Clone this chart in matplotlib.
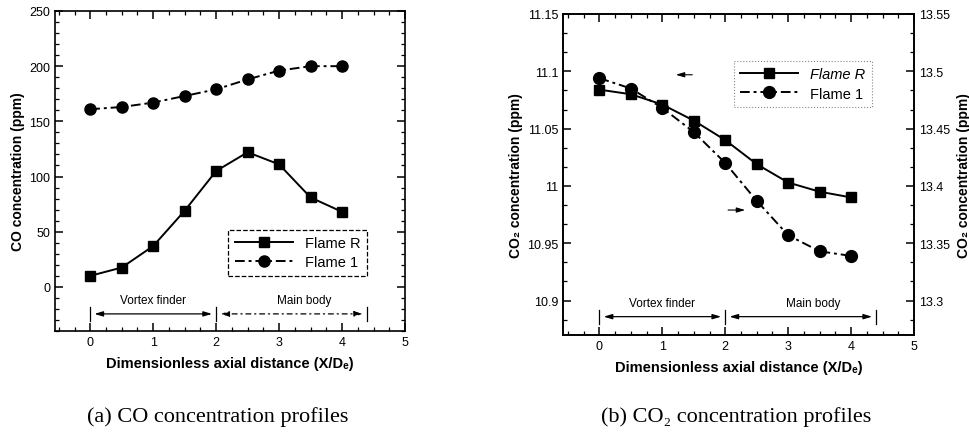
import matplotlib
matplotlib.use('Agg')
import matplotlib.pyplot as plt
from matplotlib.ticker import MultipleLocator, AutoMinorLocator, FuncFormatter

plt.rcParams['font.family'] = ['Liberation Sans', 'DejaVu Sans']

# axial positions (X/De)
x_pos = [0, 0.5, 1, 1.5, 2, 2.5, 3, 3.5, 4]

# (a) CO concentration (ppm)
co_flame_r = [10, 17.5, 37, 69, 105, 122, 111, 81, 68]
co_flame_1 = [161, 163, 167, 173, 179, 188, 196, 200, 200]

# (b) CO2 concentration (ppm): Flame R read on left axis, Flame 1 on right axis
co2_flame_r = [11.084, 11.080, 11.071, 11.057, 11.040, 11.019, 11.003, 10.995, 10.990]
co2_flame_1 = [13.494, 13.485, 13.468, 13.447, 13.420, 13.387, 13.357, 13.343, 13.339]

# region markers along the axis
sections = [0, 2, 4.4]
section_names = ['Vortex finder', 'Main body']

W, H = 969, 435
fig = plt.figure(figsize=(W / 100, H / 100), dpi=100)

dashdot = (0, (5, 2, 1.5, 2))
tick_fmt = FuncFormatter(lambda v, p: f'{v:g}')


def style_axis(ax):
    ax.tick_params(which='both', direction='in', labelsize=9)
    ax.tick_params(which='major', length=5.5, width=1.1)
    ax.tick_params(which='minor', length=3, width=0.9)
    for s in ax.spines.values():
        s.set_linewidth(1.2)


def draw_sections(ax, y_line, y_text, half, dashed_second=False):
    for i in range(len(sections) - 1):
        x0, x1 = sections[i], sections[i + 1]
        ls = '-' if (i == 0 or not dashed_second) else (0, (4, 3, 1, 3))
        ax.annotate('', xy=(x0, y_line), xytext=(x1, y_line),
                    arrowprops=dict(arrowstyle='<|-|>,head_length=0.5,head_width=0.15',
                                    color='black', lw=0.9, linestyle=ls,
                                    shrinkA=3, shrinkB=3))
        ax.text((x0 + x1) / 2 + (0.2 if i == 1 else 0), y_text, section_names[i],
                ha='center', va='bottom', fontsize=8.5)
    for xs in sections:
        ax.plot([xs, xs], [y_line - half, y_line + half], color='black', lw=0.9)


# ---------- (a) CO ----------
ax1 = fig.add_axes([55 / W, 1 - 332 / H, 350 / W, 320 / H])
ax1.plot(x_pos, co_flame_r, color='black', lw=1.4, marker='s', ms=6.5, label='Flame R')
ax1.plot(x_pos, co_flame_1, color='black', lw=1.4, linestyle=dashdot, marker='o', ms=8,
         label='Flame 1')
ax1.set_xlim(-0.56, 5)
ax1.set_ylim(-40, 250)
ax1.xaxis.set_major_locator(MultipleLocator(1))
ax1.xaxis.set_minor_locator(MultipleLocator(0.25))
ax1.yaxis.set_major_locator(MultipleLocator(50))
ax1.yaxis.set_minor_locator(MultipleLocator(10))
ax1.tick_params(which='both', top=True, right=True)
style_axis(ax1)
ax1.set_xlabel('Dimensionless axial distance (X/Dₑ)', fontsize=10.5, fontweight='bold',
               labelpad=6)
ax1.set_ylabel('CO concentration (ppm)', fontsize=10, fontweight='bold', labelpad=3)
leg1 = ax1.legend(loc='lower right', bbox_to_anchor=(0.891, 0.172), borderaxespad=0,
                  fontsize=10.5, handlelength=4, fancybox=False, edgecolor='black',
                  framealpha=1, borderpad=0.45, labelspacing=0.35)
leg1.get_frame().set_linestyle('--')
leg1.get_frame().set_linewidth(0.9)
draw_sections(ax1, -24.5, -17, 6, dashed_second=True)

# ---------- (b) CO2 ----------
ax2 = fig.add_axes([563 / W, 1 - 336 / H, 351 / W, 321 / H])
ax2r = ax2.twinx()
l_r, = ax2.plot(x_pos, co2_flame_r, color='black', lw=1.4, marker='s', ms=6.5,
                label='Flame R')
l_1, = ax2r.plot(x_pos, co2_flame_1, color='black', lw=1.4, linestyle=dashdot,
                 marker='o', ms=8.5, label='Flame 1')
ax2.set_xlim(-0.58, 5)
ax2.set_ylim(10.87, 11.15)
ax2r.set_ylim(13.27, 13.55)
ax2.xaxis.set_major_locator(MultipleLocator(1))
ax2.xaxis.set_minor_locator(MultipleLocator(0.25))
ax2.yaxis.set_major_locator(MultipleLocator(0.05))
ax2.yaxis.set_minor_locator(AutoMinorLocator(3))
ax2r.yaxis.set_major_locator(MultipleLocator(0.05))
ax2r.yaxis.set_minor_locator(AutoMinorLocator(3))
ax2.yaxis.set_major_formatter(tick_fmt)
ax2r.yaxis.set_major_formatter(tick_fmt)
ax2.tick_params(which='both', top=True)
style_axis(ax2)
style_axis(ax2r)
ax2.set_xlabel('Dimensionless axial distance (X/Dₑ)', fontsize=10.5, fontweight='bold',
               labelpad=6)
ax2.set_ylabel('CO₂ concentration (ppm)', fontsize=10, fontweight='bold', labelpad=3)
ax2r.set_ylabel('CO₂ concentration (ppm)', fontsize=10, fontweight='bold', labelpad=5)
leg2 = ax2r.legend(handles=[l_r, l_1], loc='upper right', bbox_to_anchor=(0.88, 0.854),
                   borderaxespad=0, fontsize=10.5, handlelength=4, fancybox=False,
                   edgecolor='#888888', framealpha=1, borderpad=0.45, labelspacing=0.35)
leg2.get_frame().set_linestyle(':')
leg2.get_frame().set_linewidth(0.8)
leg2.get_texts()[0].set_fontstyle('italic')
draw_sections(ax2, 10.886, 10.8925, 0.006)

# axis-pointer arrows
ax2.annotate('', xy=(1.17, 11.097), xytext=(1.52, 11.097),
             arrowprops=dict(arrowstyle='-|>,head_length=0.5,head_width=0.15',
                             color='black', lw=0.8))
ax2.annotate('', xy=(2.36, 10.979), xytext=(2.0, 10.979),
             arrowprops=dict(arrowstyle='-|>,head_length=0.5,head_width=0.15',
                             color='black', lw=0.8))

# captions
fig.text(0.225, 0.041, '(a) CO concentration profiles', ha='center', va='center',
         fontsize=16, family=['Liberation Serif', 'DejaVu Serif'])
fig.text(0.760, 0.041, '(b) CO₂ concentration profiles', ha='center', va='center',
         fontsize=16, family=['Liberation Serif', 'DejaVu Serif'])

fig.savefig('out.png', dpi=100)
